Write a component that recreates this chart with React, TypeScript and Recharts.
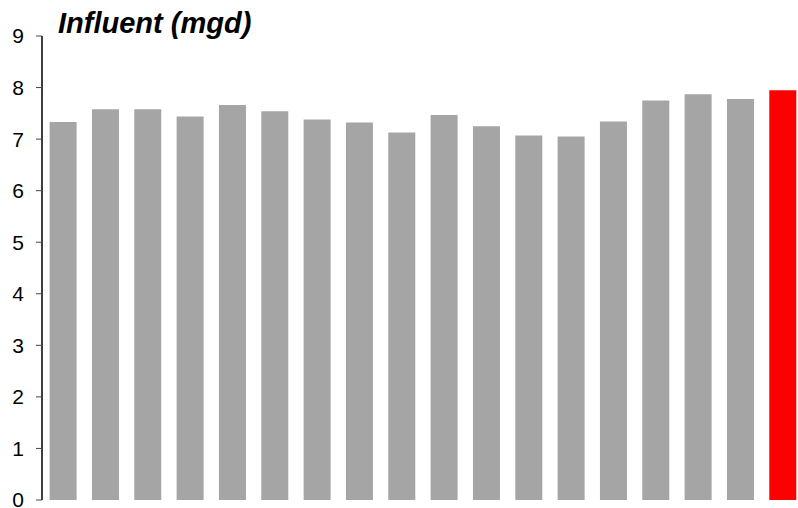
import { BarChart, Bar, XAxis, YAxis, Cell } from "recharts"

// 18 periods, the last one (current) highlighted in red
const periods = ["1", "2", "3", "4", "5", "6", "7", "8", "9", "10", "11", "12", "13", "14", "15", "16", "17", "18"]
const influent = [7.33, 7.58, 7.58, 7.44, 7.66, 7.54, 7.38, 7.32, 7.13, 7.47, 7.25, 7.07, 7.05, 7.34, 7.75, 7.87, 7.78, 7.95]
const yTicks = [0, 1, 2, 3, 4, 5, 6, 7, 8, 9]

const GREY = "#a5a5a5"
const RED = "#ff0000"

export default function App() {
  const rows = periods.map((p, i) => ({ p, v: influent[i] }))
  const font = "'Liberation Sans', Arial, sans-serif"

  return (
    <div style={{ position: "absolute", left: 0, top: 0, width: 798, height: 508, overflow: "hidden", background: "#fff" }}>
      <div
        style={{
          position: "absolute", left: 58, top: 7, fontFamily: font, fontWeight: "bold",
          fontStyle: "italic", fontSize: 29, lineHeight: "33px", color: "#000",
        }}
      >
        Influent (mgd)
      </div>
      <BarChart width={804} height={508} data={rows} margin={{ top: 36, right: 0, bottom: 8, left: 0 }} barCategoryGap="18%">
        <XAxis dataKey="p" tick={false} tickLine={false} axisLine={{ stroke: "#404040", strokeWidth: 1.5 }} height={0} />
        <YAxis
          domain={[0, 9]}
          ticks={yTicks}
          interval={0}
          width={42}
          tickSize={6}
          tickMargin={12}
          axisLine={{ stroke: "#000", strokeWidth: 1.5 }}
          tickLine={{ stroke: "#444" }}
          tick={{ fill: "#000", fontSize: 21, fontFamily: font }}
        />
        <Bar dataKey="v" isAnimationActive={false}>
          {rows.map((r, i) => (
            <Cell key={r.p} fill={i === rows.length - 1 ? RED : GREY} />
          ))}
        </Bar>
      </BarChart>
    </div>
  )
}
